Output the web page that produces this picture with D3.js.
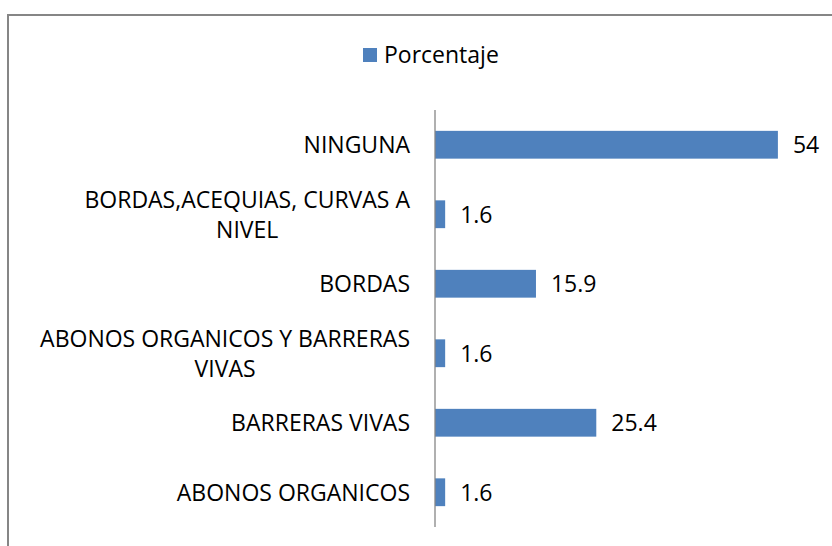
<!DOCTYPE html>
<html>
<head>
<meta charset="utf-8">
<script src="https://cdn.jsdelivr.net/npm/d3@7"></script>
<style>
  body { margin: 0; background: #fff; }
  text { font-family: "Open Sans", sans-serif; fill: #000; }
</style>
</head>
<body>
<svg id="chart" width="832" height="546"></svg>
<script>
// data
var categories = ["NINGUNA", "BORDAS,ACEQUIAS, CURVAS A NIVEL", "BORDAS",
    "ABONOS ORGANICOS Y BARRERAS VIVAS", "BARRERAS VIVAS", "ABONOS ORGANICOS"];
var values = [54, 1.6, 15.9, 1.6, 25.4, 1.6];
var seriesName = "Porcentaje";
var xMax = 60;

var barColor = "#4F81BD";
var fontSize = 23;

var svg = d3.select("#chart");

// outer frame (runs off right and bottom edge)
svg.append("rect")
    .attr("x", 8).attr("y", 15)
    .attr("width", 840).attr("height", 560)
    .attr("fill", "none")
    .attr("stroke", "#868686")
    .attr("stroke-width", 2);

var x = d3.scaleLinear().domain([0, xMax]).range([435, 816]);
var y = d3.scaleBand().domain(categories).range([110, 527])
    .paddingInner(0.6).paddingOuter(0.3);

// bars
svg.selectAll("rect.bar").data(categories).enter().append("rect")
    .attr("class", "bar")
    .attr("x", x(0))
    .attr("y", function (d) { return y(d); })
    .attr("width", function (d, i) { return x(values[i]) - x(0); })
    .attr("height", y.bandwidth())
    .attr("fill", barColor);

// value labels
svg.selectAll("text.val").data(categories).enter().append("text")
    .attr("class", "val")
    .attr("x", function (d, i) { return x(values[i]) + 15; })
    .attr("y", function (d) { return y(d) + y.bandwidth() / 2; })
    .attr("dy", "0.36em")
    .style("font-size", fontSize + "px")
    .text(function (d, i) { return values[i]; });

// category axis line
svg.append("line")
    .attr("x1", x(0)).attr("x2", x(0))
    .attr("y1", 110).attr("y2", 527)
    .attr("stroke", "#868686")
    .attr("stroke-width", 1.3);

// measuring helper for wrapping the category labels
var measure = svg.append("text").style("font-size", fontSize + "px");
function textWidth(s) {
    measure.text(s);
    return measure.node().getComputedTextLength();
}
function wrap(label, maxW) {
    var words = label.split(" "), lines = [], cur = "";
    words.forEach(function (w) {
        var t = cur ? cur + " " + w : w;
        if (cur && textWidth(t) > maxW) { lines.push(cur); cur = w; }
        else cur = t;
    });
    lines.push(cur);
    return lines;
}

var labelRight = 410, lineH = 30;
categories.forEach(function (c) {
    var lines = wrap(c, 380);
    var widths = lines.map(textWidth);
    var blockW = d3.max(widths);
    var cy = y(c) + y.bandwidth() / 2;
    var t = svg.append("text")
        .style("font-size", fontSize + "px")
        .attr("text-anchor", lines.length > 1 ? "middle" : "end");
    lines.forEach(function (l, k) {
        t.append("tspan")
            .attr("x", lines.length > 1 ? labelRight - blockW / 2 : labelRight)
            .attr("y", cy + (k - (lines.length - 1) / 2) * lineH)
            .attr("dy", "0.36em")
            .text(l);
    });
});
measure.remove();

// legend
var legend = svg.append("g");
legend.append("rect")
    .attr("x", 363).attr("y", 48)
    .attr("width", 14).attr("height", 14)
    .attr("fill", barColor);
legend.append("text")
    .attr("x", 384).attr("y", 63)
    .style("font-size", fontSize + "px")
    .text(seriesName);
</script>
</body>
</html>
